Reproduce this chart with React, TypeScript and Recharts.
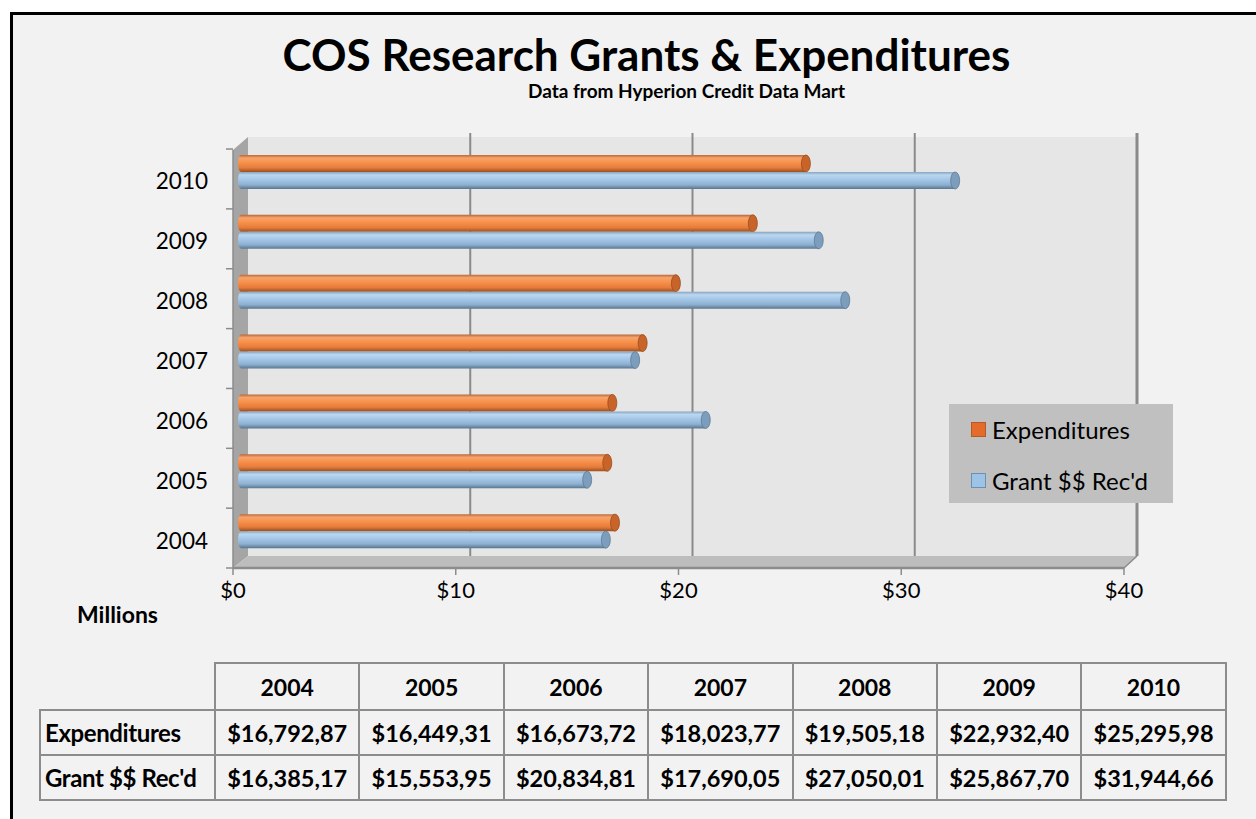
import React from "react";
import { BarChart, Bar, XAxis, YAxis, CartesianGrid } from "recharts";

const YEARS = ["2004", "2005", "2006", "2007", "2008", "2009", "2010"];
// thousands of dollars, as shown in the data table
const EXPENDITURES = [16792.87, 16449.31, 16673.72, 18023.77, 19505.18, 22932.4, 25295.98];
const GRANTS = [16385.17, 15553.95, 20834.81, 17690.05, 27050.01, 25867.7, 31944.66];
const X_TICKS = [0, 10, 20, 30, 40];
const SERIES = [
  { key: "exp", name: "Expenditures" },
  { key: "grant", name: "Grant $$ Rec'd" },
];

const FONT = "Lato, 'Open Sans', sans-serif";

const data = YEARS.map((y, i) => ({
  year: y,
  exp: EXPENDITURES[i] / 1000,
  grant: GRANTS[i] / 1000,
}));

const fmt = (v: number) => {
  const [int, dec] = v.toFixed(2).split(".");
  return "$" + Number(int).toLocaleString("en-US") + "," + dec;
};

// plot area (where the bars live)
const PL = 238;
const PR = 1136;
const PT = 142;
const PB = 561;

const COLORS: Record<string, { stops: string[]; cap: string; edge: string; sw: string; sb: string }> = {
  exp: {
    stops: ["#b8683a", "#f7a36c", "#f79049", "#e67c3c", "#9c4f1e"],
    cap: "#c8642a",
    edge: "#9a4c1c",
    sw: "#e46c2a",
    sb: "#b65a24",
  },
  grant: {
    stops: ["#86a4c0", "#bcd7ef", "#a3c6e8", "#8fb0d0", "#587690"],
    cap: "#7d9dbc",
    edge: "#5c7b97",
    sw: "#9dc3e6",
    sb: "#6f8fae",
  },
};

function Cylinder(props: any) {
  const { x, y, width, height, dataKey } = props;
  const c = COLORS[dataKey];
  const r = height / 2;
  const cx = x + width;
  const id = "grad-" + dataKey;
  return (
    <g>
      <path
        d={`M${x + 3},${y} L${cx},${y} L${cx},${y + height} L${x + 3},${y + height} A3,${r} 0 0 1 ${x + 3},${y} Z`}
        fill={`url(#${id})`}
      />
      <ellipse cx={cx} cy={y + r} rx={4.5} ry={r} fill={c.cap} stroke={c.edge} strokeWidth={0.8} />
    </g>
  );
}

function YTick(props: any) {
  const { y, payload } = props;
  const top = y - 22.9;
  return (
    <g>
      <line x1={226} x2={233} y1={top} y2={top} stroke="#8c8c8c" strokeWidth={1.5} />
      <text x={208} y={y + 9} textAnchor="end" dominantBaseline="central" fontSize={22.5} fontFamily={FONT} fill="#000">
        {payload.value}
      </text>
    </g>
  );
}

function XTick(props: any) {
  const { x, payload } = props;
  // front edge of the 3D floor sits a little left of the back wall
  const fx = x - 5 - (payload.value / 40) * 7;
  return (
    <g>
      <line x1={fx} x2={fx} y1={568} y2={575} stroke="#8c8c8c" strokeWidth={1.5} />
      <text x={fx} y={589} textAnchor="middle" dominantBaseline="central" fontSize={22} fontFamily={FONT} fill="#000">
        {"$" + payload.value}
      </text>
    </g>
  );
}

function GridLine(props: any) {
  const { x1 } = props;
  const bx = 248 + ((x1 - PL) * 889) / 898;
  return <line x1={bx} x2={bx} y1={133} y2={556} stroke="#8a8a8a" strokeWidth={2} />;
}

function LegendBox() {
  return (
    <div
      style={{
        position: "absolute",
        left: 949,
        top: 404,
        width: 224,
        height: 99,
        background: "#c0c0c0",
        fontFamily: FONT,
        fontSize: 24,
        color: "#000",
        boxSizing: "border-box",
        paddingLeft: 22,
        paddingTop: 11,
      }}
    >
      {SERIES.map((s) => (
        <div key={s.key} style={{ display: "flex", alignItems: "center", height: 28, marginBottom: 23, whiteSpace: "nowrap" }}>
          <span
            style={{
              display: "inline-block",
              flexShrink: 0,
              width: 13,
              height: 13,
              background: COLORS[s.key].sw,
              border: "1.5px solid " + COLORS[s.key].sb,
              marginRight: 6,
            }}
          />
          {s.name}
        </div>
      ))}
    </div>
  );
}

export default function App() {
  const cell = "2px solid #8c8c8c";
  return (
    <div style={{ position: "absolute", left: 0, top: 0, width: 1256, height: 819, background: "#fff", overflow: "hidden" }}>
      <div
        style={{
          position: "absolute",
          left: 10,
          top: 12,
          width: 1300,
          height: 900,
          background: "#f2f2f2",
          borderLeft: "3px solid #000",
          borderTop: "3px solid #000",
        }}
      />
      <div
        style={{
          position: "absolute",
          left: 0,
          width: 1293,
          top: 29,
          textAlign: "center",
          fontFamily: FONT,
          fontWeight: 700,
          fontSize: 44,
          lineHeight: "50px",
          whiteSpace: "nowrap",
        }}
      >
        COS Research Grants &amp; Expenditures
      </div>
      <div
        style={{
          position: "absolute",
          left: 0,
          width: 1373,
          top: 80,
          textAlign: "center",
          fontFamily: FONT,
          fontWeight: 700,
          fontSize: 19,
          lineHeight: "22px",
        }}
      >
        Data from Hyperion Credit Data Mart
      </div>
      {/* 3D walls and floor */}
      <svg style={{ position: "absolute", left: 0, top: 0 }} width={1256} height={819}>
        <rect x={248} y={137} width={889} height={419} fill="#e6e6e6" />
        <polygon points="233,150 248,137 248,556 233,568" fill="#a5a5a5" />
        <polygon points="233,568 248,556 1137,556 1124,568" fill="#bdbdbd" />
        <line x1={233} y1={568} x2={1124} y2={568} stroke="#8c8c8c" strokeWidth={2.5} />
        <line x1={233} y1={150} x2={233} y2={568} stroke="#8c8c8c" strokeWidth={1.5} />
        <line x1={1124} y1={568} x2={1137} y2={556} stroke="#8c8c8c" strokeWidth={1.5} />
        <line x1={1137} y1={133} x2={1137} y2={556} stroke="#8a8a8a" strokeWidth={3} />
        <line x1={226} y1={568} x2={233} y2={568} stroke="#8c8c8c" strokeWidth={1.5} />
      </svg>
      <div style={{ position: "absolute", left: 0, top: 0 }}>
        <BarChart
          width={1256}
          height={819}
          data={data}
          layout="vertical"
          margin={{ top: PT, right: 1256 - PR, bottom: 819 - PB - 30, left: PL - 80 }}
          barSize={17}
          barGap={0}
        >
          <defs>
            {Object.keys(COLORS).map((k) => (
              <linearGradient key={k} id={"grad-" + k} x1="0" y1="0" x2="0" y2="1">
                {COLORS[k].stops.map((c, i) => (
                  <stop key={i} offset={[0, 0.18, 0.45, 0.75, 1][i]} stopColor={c} />
                ))}
              </linearGradient>
            ))}
          </defs>
          <CartesianGrid horizontal={false} vertical={GridLine as any} verticalValues={[10, 20, 30]} />
          <XAxis
            type="number"
            domain={[0, 40]}
            ticks={X_TICKS}
            height={30}
            axisLine={false}
            tickLine={false}
            tick={XTick}
            interval={0}
          />
          <YAxis
            type="category"
            dataKey="year"
            reversed
            width={80}
            axisLine={false}
            tickLine={false}
            tick={YTick}
            interval={0}
          />
          {SERIES.map((s) => (
            <Bar key={s.key} dataKey={s.key} name={s.name} shape={Cylinder} isAnimationActive={false} />
          ))}
        </BarChart>
      </div>
      <LegendBox />
      <div
        style={{
          position: "absolute",
          left: 77,
          top: 600,
          fontFamily: FONT,
          fontWeight: 700,
          fontSize: 23,
          lineHeight: "28px",
        }}
      >
        Millions
      </div>
      <table
        style={{
          position: "absolute",
          left: 39,
          top: 662,
          borderCollapse: "collapse",
          fontFamily: FONT,
          fontWeight: 700,
          fontSize: 23.5,
          tableLayout: "fixed",
          whiteSpace: "nowrap",
        }}
      >
        <tbody>
          <tr style={{ height: 47 }}>
            <td style={{ width: 174, padding: 0 }} />
            {YEARS.map((y) => (
              <td key={y} style={{ width: 142.4, border: cell, textAlign: "center", padding: 0, fontSize: 23 }}>
                {y}
              </td>
            ))}
          </tr>
          {SERIES.map((s) => (
            <tr key={s.key} style={{ height: 45 }}>
              <td style={{ border: cell, padding: "0 0 0 4px", fontSize: 24, letterSpacing: -0.4 }}>{s.name}</td>
              {(s.key === "exp" ? EXPENDITURES : GRANTS).map((v, i) => (
                <td key={i} style={{ border: cell, textAlign: "center", padding: 0 }}>
                  {fmt(v)}
                </td>
              ))}
            </tr>
          ))}
        </tbody>
      </table>
    </div>
  );
}
